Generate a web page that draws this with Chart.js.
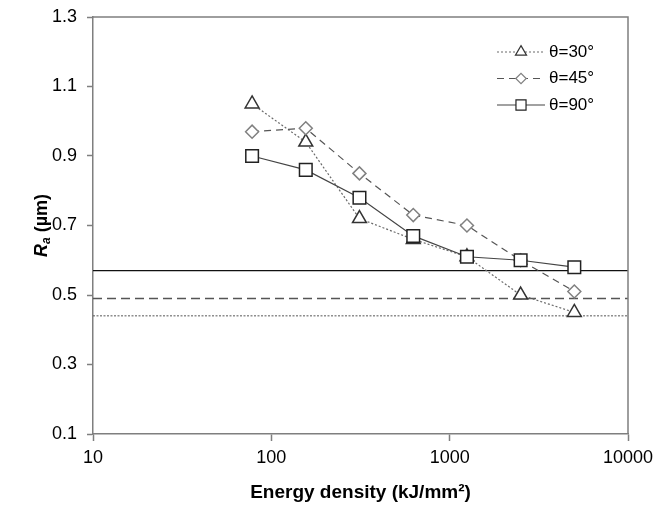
<!DOCTYPE html>
<html>
<head>
<meta charset="utf-8">
<script src="https://cdn.jsdelivr.net/npm/chart.js@4"></script>
<style>
  body { margin: 0; background: #fff; }
</style>
</head>
<body>
<canvas id="myChart" width="658" height="510"></canvas>
<script>
// energy density (kJ/mm2) and Ra (um)
const energyDensity = [78, 156, 312, 625, 1250, 2500, 5000]
const ra30 = [1.05, 0.94, 0.72, 0.66, 0.61, 0.50, 0.45]
const ra45 = [0.97, 0.98, 0.85, 0.73, 0.70, 0.60, 0.51]
const ra90 = [0.90, 0.86, 0.78, 0.67, 0.61, 0.60, 0.58]

// horizontal reference levels
const baseline30 = 0.44
const baseline45 = 0.49
const baseline90 = 0.57

const xRange = [10, 10000]
const xTicks = [10, 100, 1000, 10000]
const yTicks = [0.1, 0.3, 0.5, 0.7, 0.9, 1.1, 1.3]
const seriesNames = ['θ=30°', 'θ=45°', 'θ=90°']

const AXIS_COLOR = '#7f7f7f'
const FONT = '"Liberation Sans", Arial, sans-serif'

function toPoints(ys) {
  return energyDensity.map((x, i) => ({ x: x, y: ys[i] }))
}
function flatLine(y) {
  return [{ x: xRange[0], y: y }, { x: xRange[1], y: y }]
}

const series = [
  {
    label: seriesNames[0],
    data: toPoints(ra30),
    borderColor: '#6a6a6a',
    borderWidth: 1.2,
    borderDash: [2, 2],
    pointStyle: 'triangle',
    pointRadius: 8,
    pointBorderColor: '#333',
    pointBackgroundColor: '#fff',
    pointBorderWidth: 1.5,
    order: 2
  },
  {
    label: seriesNames[1],
    data: toPoints(ra45),
    borderColor: '#555',
    borderWidth: 1.2,
    borderDash: [7, 5],
    pointStyle: 'rectRot',
    pointRadius: 6.5,
    pointBorderColor: '#808080',
    pointBackgroundColor: '#fff',
    pointBorderWidth: 1.5,
    order: 1
  },
  {
    label: seriesNames[2],
    data: toPoints(ra90),
    borderColor: '#444',
    borderWidth: 1.2,
    borderDash: [],
    pointStyle: 'rect',
    pointRadius: 8.9,
    pointBorderColor: '#222',
    pointBackgroundColor: '#fff',
    pointBorderWidth: 1.5,
    order: 0
  }
]

const baselines = [
  { data: flatLine(baseline30), borderColor: '#555', borderWidth: 1, borderDash: [2, 1.5], pointRadius: 0, order: 3 },
  { data: flatLine(baseline45), borderColor: '#555', borderWidth: 1.3, borderDash: [9, 5], pointRadius: 0, order: 3 },
  { data: flatLine(baseline90), borderColor: '#111', borderWidth: 1.2, borderDash: [], pointRadius: 0, order: 3 }
]

const framePlugin = {
  id: 'frame',
  afterDatasetsDraw(chart) {
    const ctx = chart.ctx
    const a = chart.chartArea
    ctx.save()
    ctx.strokeStyle = AXIS_COLOR
    ctx.lineWidth = 1.5
    ctx.beginPath()
    ctx.moveTo(a.left, a.top)
    ctx.lineTo(a.right, a.top)
    ctx.lineTo(a.right, a.bottom)
    ctx.stroke()
    ctx.restore()
  }
}

const legendPlugin = {
  id: 'boxLegend',
  afterDraw(chart) {
    const ctx = chart.ctx
    ctx.save()
    series.forEach((s, i) => {
      const y = 52 + i * 26.5
      ctx.strokeStyle = s.borderColor
      ctx.lineWidth = s.borderWidth
      ctx.setLineDash(s.borderDash)
      ctx.beginPath()
      ctx.moveTo(497, y)
      ctx.lineTo(545, y)
      ctx.stroke()
      ctx.setLineDash([])
      ctx.fillStyle = '#fff'
      ctx.strokeStyle = s.pointBorderColor
      ctx.lineWidth = 1.2
      Chart.helpers.drawPoint(ctx, {
        pointStyle: s.pointStyle,
        radius: s.pointRadius * 0.8,
        borderWidth: 1.2,
        rotation: 0
      }, 521, y)
      ctx.fillStyle = '#000'
      ctx.font = '17px ' + FONT
      ctx.textBaseline = 'middle'
      ctx.textAlign = 'left'
      ctx.fillText(s.label, 549, y)
    })
    ctx.restore()
  }
}

const titlePlugin = {
  id: 'axisTitles',
  afterDraw(chart) {
    const ctx = chart.ctx
    const a = chart.chartArea
    ctx.save()
    ctx.fillStyle = '#000'
    // x title
    ctx.font = 'bold 19px ' + FONT
    ctx.textAlign = 'center'
    ctx.textBaseline = 'middle'
    ctx.fillText('Energy density (kJ/mm²)', (a.left + a.right) / 2, 493)

    // y title: R (italic) + subscript a + (µm)
    ctx.translate(40, (a.top + a.bottom) / 2)
    ctx.rotate(-Math.PI / 2)
    ctx.textAlign = 'left'
    ctx.textBaseline = 'alphabetic'
    const partR = 'R'
    const partA = 'a'
    const partUnit = ' (µm)'
    ctx.font = 'italic bold 18px ' + FONT
    const wR = ctx.measureText(partR).width
    ctx.font = 'italic bold 12px ' + FONT
    const wA = ctx.measureText(partA).width
    ctx.font = 'bold 18px ' + FONT
    const wU = ctx.measureText(partUnit).width
    let x = -(wR + wA + wU) / 2
    const base = 7
    ctx.font = 'italic bold 18px ' + FONT
    ctx.fillText(partR, x, base)
    x += wR
    ctx.font = 'italic bold 12px ' + FONT
    ctx.fillText(partA, x, base + 3)
    x += wA
    ctx.font = 'bold 18px ' + FONT
    ctx.fillText(partUnit, x, base)
    ctx.restore()
  }
}

const config = {
  type: 'line',
  data: {
    datasets: [...series, ...baselines]
  },
  options: {
    responsive: false,
    animation: false,
    layout: {
      padding: { top: 17, right: 30, left: 0, bottom: 0 }
    },
    plugins: {
      legend: { display: false },
      tooltip: { enabled: false },
      title: { display: false }
    },
    scales: {
      x: {
        type: 'logarithmic',
        min: xRange[0],
        max: xRange[1],
        afterBuildTicks(scale) {
          scale.ticks = xTicks.map(v => ({ value: v }))
        },
        afterFit(scale) {
          scale.height = 76
          scale.paddingRight = 0
          scale.paddingLeft = 0
        },
        ticks: {
          callback: v => String(v),
          color: '#000',
          font: { family: FONT, size: 18 },
          padding: 6,
          maxRotation: 0,
          autoSkip: false
        },
        grid: {
          drawOnChartArea: false,
          drawTicks: true,
          tickLength: 7,
          tickColor: AXIS_COLOR,
          tickWidth: 1.5
        },
        border: { display: true, color: AXIS_COLOR, width: 1.5 }
      },
      y: {
        type: 'linear',
        min: 0.1,
        max: 1.3,
        afterBuildTicks(scale) {
          scale.ticks = yTicks.map(v => ({ value: v }))
        },
        afterFit(scale) {
          scale.width = 93
          scale.paddingTop = 0
          scale.paddingBottom = 0
        },
        ticks: {
          callback: v => v.toFixed(1),
          color: '#000',
          font: { family: FONT, size: 18 },
          padding: 10
        },
        grid: {
          drawOnChartArea: false,
          drawTicks: true,
          tickLength: 6,
          tickColor: AXIS_COLOR,
          tickWidth: 1.5
        },
        border: { display: true, color: AXIS_COLOR, width: 1.5 }
      }
    }
  },
  plugins: [framePlugin, legendPlugin, titlePlugin]
}

const myChart = new Chart(document.getElementById('myChart'), config)
</script>
</body>
</html>
